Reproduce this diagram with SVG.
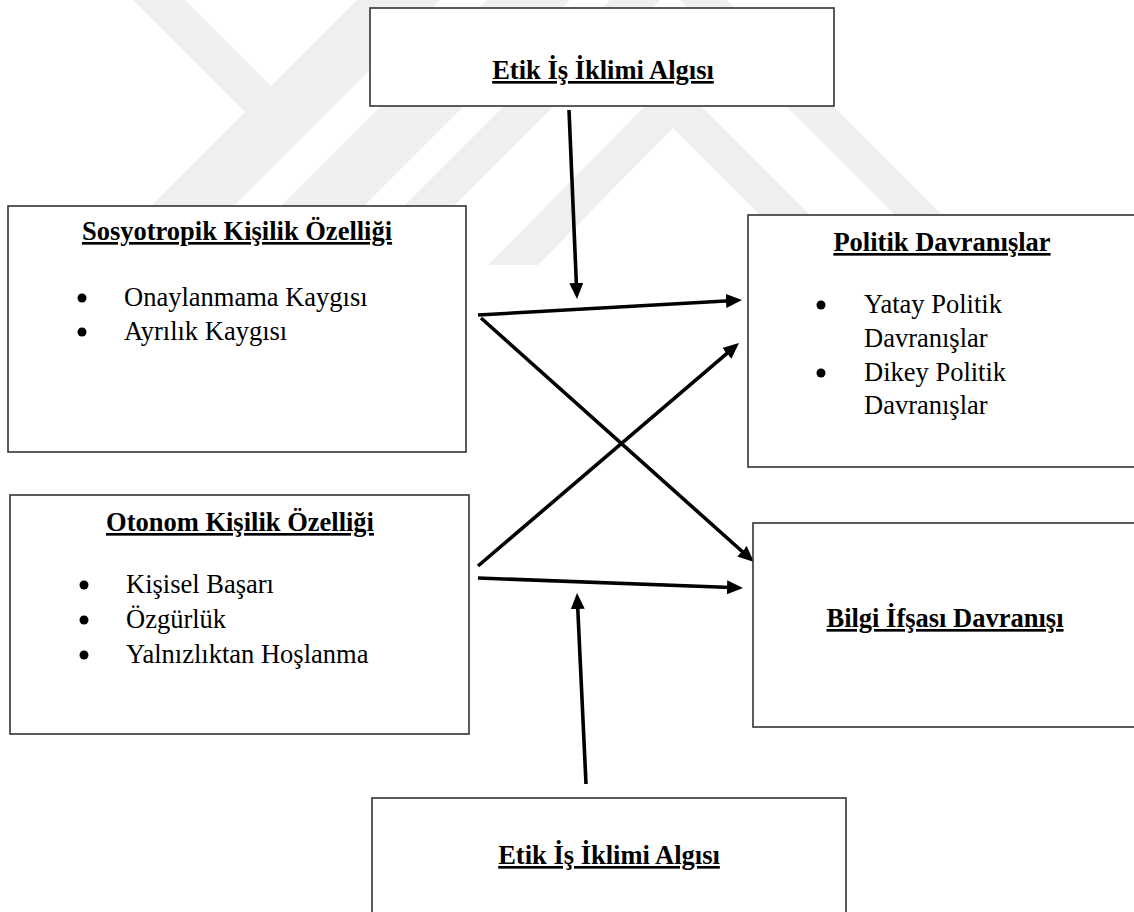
<svg xmlns="http://www.w3.org/2000/svg" width="1134" height="912" viewBox="0 0 1134 912">
  <defs>
    <marker id="arrow" viewBox="0 0 16 14" markerWidth="16" markerHeight="14" refX="4" refY="7" markerUnits="userSpaceOnUse" orient="auto">
      <path d="M0,0 L16,7 L0,14 z" fill="#000"/>
    </marker>
    <style>
      .box { fill: #fff; stroke: #333; stroke-width: 1.6; }
      .title { font-size: 26.5px; font-weight: bold; text-decoration: underline; text-anchor: middle; fill: #000; }
      .item { font-size: 26.5px; fill: #000; }
      .dot { fill: #000; }
      .wm { fill: #efefef; }
      .link { stroke: #000; stroke-width: 3.6; fill: none; marker-end: url(#arrow); }
    </style>
  </defs>

  <rect width="1134" height="912" fill="#fff"/>

  <!-- faint background emblem -->
  <g id="watermark">
    <polygon class="wm" points="133,0 185,0 271,86 245,112"/>
    <polygon class="wm" points="357,0 440,0 225,215 142,215"/>
    <polygon class="wm" points="487,0 570,0 355,215 272,215"/>
    <polygon class="wm" points="610,0 660,0 445,215 395,215"/>
    <polygon class="wm" points="680,0 727,0 942,215 895,215"/>
    <polygon class="wm" points="488,265 673,78 820,225 820,275 673,128 538,265"/>
  </g>

  <g id="connectors">
    <line class="link" x1="569" y1="110" x2="576.5" y2="287"/>
    <line class="link" x1="478" y1="315" x2="730" y2="300.7"/>
    <line class="link" x1="481" y1="318" x2="745" y2="554"/>
    <line class="link" x1="478" y1="566" x2="729.9" y2="350.8"/>
    <line class="link" x1="478" y1="578" x2="731" y2="587.5"/>
    <line class="link" x1="586" y1="784" x2="577.6" y2="605"/>
  </g>

  <g font-family="'Liberation Serif', 'Times New Roman', Tinos, serif">
    <g id="etik-top">
      <rect class="box" x="370" y="8" width="464" height="98"/>
      <text class="title" x="603" y="79">Etik İş İklimi Algısı</text>
    </g>

    <g id="sosyotropik">
      <rect class="box" x="8" y="206" width="458" height="246"/>
      <text class="title" x="237" y="240">Sosyotropik Kişilik Özelliği</text>
      <circle class="dot" cx="82" cy="298" r="4.5"/>
      <text class="item" x="124" y="306">Onaylanmama Kaygısı</text>
      <circle class="dot" cx="82" cy="332" r="4.5"/>
      <text class="item" x="124" y="340">Ayrılık Kaygısı</text>
    </g>

    <g id="politik">
      <rect class="box" x="748" y="215" width="400" height="252"/>
      <text class="title" x="942" y="251">Politik Davranışlar</text>
      <circle class="dot" cx="821" cy="305" r="4.5"/>
      <text class="item" x="864" y="313">Yatay Politik</text>
      <text class="item" x="864" y="347">Davranışlar</text>
      <circle class="dot" cx="821" cy="373" r="4.5"/>
      <text class="item" x="864" y="381">Dikey Politik</text>
      <text class="item" x="864" y="414">Davranışlar</text>
    </g>

    <g id="otonom">
      <rect class="box" x="10" y="495" width="459" height="239"/>
      <text class="title" x="240" y="531">Otonom Kişilik Özelliği</text>
      <circle class="dot" cx="84" cy="585" r="4.5"/>
      <text class="item" x="126" y="593">Kişisel Başarı</text>
      <circle class="dot" cx="84" cy="620" r="4.5"/>
      <text class="item" x="126" y="628">Özgürlük</text>
      <circle class="dot" cx="84" cy="655" r="4.5"/>
      <text class="item" x="126" y="663">Yalnızlıktan Hoşlanma</text>
    </g>

    <g id="bilgi">
      <rect class="box" x="753" y="523" width="400" height="204"/>
      <text class="title" x="945" y="627">Bilgi İfşası Davranışı</text>
    </g>

    <g id="etik-bottom">
      <rect class="box" x="372" y="798" width="474" height="130"/>
      <text class="title" x="609" y="864">Etik İş İklimi Algısı</text>
    </g>
  </g>
</svg>
